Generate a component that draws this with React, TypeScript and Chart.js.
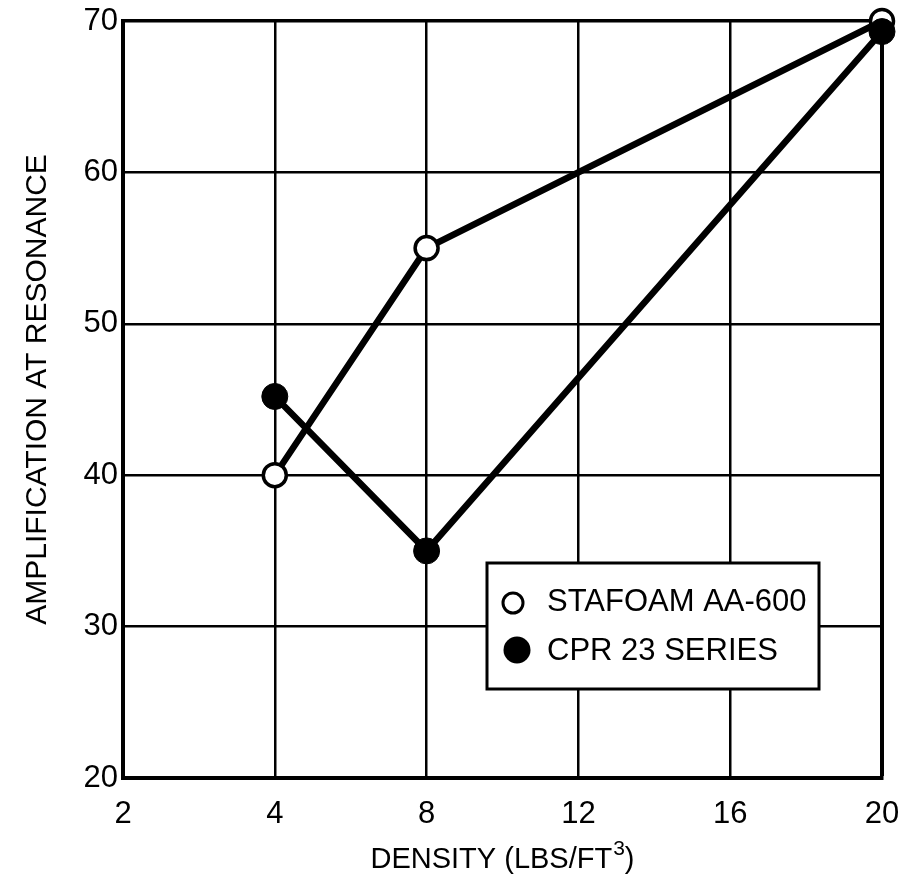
import { useEffect, useRef } from "react";
import { Chart, registerables } from "chart.js";

Chart.register(...registerables);

// ---- data ----
const densityLabels = ["2", "4", "8", "12", "16", "20"];
const stafoamValues = [null, 40, 55, null, null, 70];
const cprValues = [null, 45.2, 35, null, null, 69.3];
const seriesNames = ["STAFOAM AA-600", "CPR 23 SERIES"];
const yTitle = "AMPLIFICATION AT RESONANCE";
const xTitleParts = ["DENSITY (LBS/FT", "3", ")"];
const yMin = 20;
const yMax = 70;
const yStep = 10;

const FONT = "'Liberation Sans', Arial, sans-serif";

const boxLegend = {
  id: "boxLegend",
  afterDatasetsDraw(chart: any) {
    const { ctx, chartArea: a } = chart;
    const x0 = a.left + 364;
    const y0 = a.top + 542;
    const w = 332;
    const h = 126;
    ctx.save();
    ctx.fillStyle = "#fff";
    ctx.fillRect(x0, y0, w, h);
    ctx.lineWidth = 3;
    ctx.strokeStyle = "#000";
    ctx.strokeRect(x0, y0, w, h);
    ctx.beginPath();
    ctx.arc(x0 + 26, y0 + 40, 10, 0, Math.PI * 2);
    ctx.lineWidth = 3;
    ctx.stroke();
    ctx.beginPath();
    ctx.arc(x0 + 30, y0 + 87, 13.5, 0, Math.PI * 2);
    ctx.fillStyle = "#000";
    ctx.fill();
    ctx.font = `31px ${FONT}`;
    ctx.textBaseline = "alphabetic";
    ctx.textAlign = "left";
    ctx.fillText(seriesNames[0], x0 + 60, y0 + 48);
    ctx.fillText(seriesNames[1], x0 + 60, y0 + 97);
    ctx.restore();
  },
};

const axisTitles = {
  id: "axisTitles",
  afterDraw(chart: any) {
    const { ctx, chartArea: a } = chart;
    ctx.save();
    ctx.fillStyle = "#000";
    ctx.textBaseline = "alphabetic";
    ctx.textAlign = "left";
    // x title with superscript
    const mainFont = `29px ${FONT}`;
    const supFont = `21px ${FONT}`;
    ctx.font = mainFont;
    const w0 = ctx.measureText(xTitleParts[0]).width;
    const w2 = ctx.measureText(xTitleParts[2]).width;
    ctx.font = supFont;
    const w1 = ctx.measureText(xTitleParts[1]).width;
    const total = w0 + w1 + w2 + 1;
    const cx = (a.left + a.right) / 2;
    const base = a.bottom + 90;
    let x = cx - total / 2;
    ctx.font = mainFont;
    ctx.fillText(xTitleParts[0], x, base);
    x += w0 + 1;
    ctx.font = supFont;
    ctx.fillText(xTitleParts[1], x, base - 13);
    x += w1;
    ctx.font = mainFont;
    ctx.fillText(xTitleParts[2], x, base);
    // y title
    ctx.translate(a.left - 85, (a.top + a.bottom) / 2 - 10);
    ctx.rotate(-Math.PI / 2);
    ctx.font = `30px ${FONT}`;
    ctx.textAlign = "center";
    ctx.textBaseline = "middle";
    ctx.fillText(yTitle, 0, 0);
    ctx.restore();
  },
};

export default function App() {
  const ref = useRef<HTMLCanvasElement | null>(null);

  useEffect(() => {
    if (!ref.current) return;
    const lastX = densityLabels.length - 1;
    const lastY = Math.round((yMax - yMin) / yStep);
    const chart = new Chart(ref.current, {
      type: "line",
      data: {
        labels: densityLabels,
        datasets: [
          {
            label: seriesNames[1],
            data: cprValues,
            borderColor: "#000",
            borderWidth: 6.5,
            pointRadius: 13,
            pointBackgroundColor: "#000",
            pointBorderColor: "#000",
            pointBorderWidth: 1,
            spanGaps: true,
            tension: 0,
            clip: false,
          },
          {
            label: seriesNames[0],
            data: stafoamValues,
            borderColor: "#000",
            borderWidth: 6.5,
            pointRadius: 11.5,
            pointBackgroundColor: "#fff",
            pointBorderColor: "#000",
            pointBorderWidth: 3.5,
            spanGaps: true,
            tension: 0,
            clip: false,
          },
        ],
      },
      options: {
        animation: false,
        responsive: false,
        devicePixelRatio: 1,
        layout: { padding: { top: 21, right: 21, left: 0, bottom: 0 } },
        plugins: {
          legend: { display: false },
          tooltip: { enabled: false },
        },
        scales: {
          x: {
            type: "category",
            offset: false,
            grid: {
              color: "#000",
              drawTicks: false,
              lineWidth: (c: any) => (c.index === lastX ? 4 : 2.5),
            },
            border: { display: true, color: "#000", width: 4 },
            ticks: {
              color: "#000",
              font: { family: FONT, size: 31 },
              padding: 18,
              maxRotation: 0,
            },
            title: { display: false },
            afterFit: (s: any) => {
              s.height = 108;
              s.paddingLeft = 0;
              s.paddingRight = 0;
            },
          },
          y: {
            min: yMin,
            max: yMax,
            grid: {
              color: "#000",
              drawTicks: false,
              lineWidth: (c: any) => (c.index === lastY ? 3.5 : 2.5),
            },
            border: { display: true, color: "#000", width: 4 },
            ticks: {
              stepSize: yStep,
              color: "#000",
              font: { family: FONT, size: 31 },
              padding: 5,
            },
            title: { display: false },
            afterFit: (s: any) => {
              s.width = 123;
              s.paddingTop = 0;
              s.paddingBottom = 0;
            },
          },
        },
      },
      plugins: [boxLegend, axisTitles],
    });
    return () => chart.destroy();
  }, []);

  return (
    <div style={{ position: "absolute", left: 0, top: 0, width: 903, height: 886, background: "#fff" }}>
      <canvas ref={ref} width={903} height={886} style={{ display: "block" }} />
    </div>
  );
}
